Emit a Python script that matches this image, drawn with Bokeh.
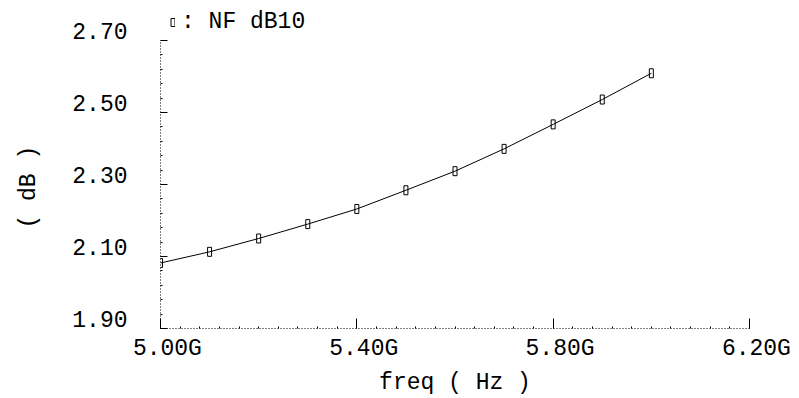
import numpy as np
from bokeh.plotting import figure
from bokeh.models import (FixedTicker, CustomJSTickFormatter,
                          Range1d, Legend, LegendItem, ColumnDataSource)
from bokeh.embed import file_html
from bokeh.resources import INLINE

# data (freq in Hz, NF in dB)
freq = [5.0e9, 5.1e9, 5.2e9, 5.3e9, 5.4e9, 5.5e9, 5.6e9, 5.7e9, 5.8e9, 5.9e9, 6.0e9]
nf_db = [2.082, 2.113, 2.150, 2.190, 2.232, 2.284, 2.337, 2.399, 2.467, 2.536, 2.609]
x_ticks = [5.0e9, 5.4e9, 5.8e9, 6.2e9]
y_ticks = [1.90, 2.10, 2.30, 2.50, 2.70]
series_name = "NF dB10"

FONT = "Liberation Mono"
FS = "23px"
NB = "\u00a0"

# frame extends above 2.70 so the legend can sit there; axis bounds stop at 2.70
p = figure(width=799, height=398, output_backend="svg", toolbar_location=None,
           x_range=Range1d(5.0e9, 6.2e9), y_range=Range1d(1.90, 2.80),
           min_border_left=160, min_border_right=50, min_border_top=4,
           min_border_bottom=66, background_fill_color="white",
           border_fill_color="white", outline_line_color=None)
p.grid.visible = False

src = ColumnDataSource(dict(x=freq, y=nf_db))
p.line("x", "y", source=src, line_color="black", line_width=1)
r = p.rect("x", "y", source=src, width=4, height=9, width_units="screen",
           height_units="screen", fill_color=None, line_color="black", line_width=1)

xminor = list(np.arange(5.0e9, 6.2e9 + 1, 0.04e9))
yminor = list(np.arange(1.90, 2.70 + 1e-9, 0.04))
p.xaxis.ticker = FixedTicker(ticks=x_ticks, minor_ticks=xminor)
p.yaxis.ticker = FixedTicker(ticks=y_ticks, minor_ticks=yminor)
p.yaxis.bounds = (1.90, 2.70)
p.xaxis.formatter = CustomJSTickFormatter(
    code="return '\\u00a0' + (tick/1e9).toFixed(2) + 'G';")
p.yaxis.formatter = CustomJSTickFormatter(code="return tick.toFixed(2) + '\\n ';")

p.xaxis.axis_label = "freq ( Hz )"
p.yaxis.axis_label = "( dB )" + NB * 3

for ax in (p.xaxis, p.yaxis):
    ax.axis_line_color = "black"
    ax.axis_line_dash = "1 2"
    ax.axis_line_width = 1
    ax.major_tick_line_color = "black"
    ax.minor_tick_line_color = "black"
    ax.major_tick_out = 0
    ax.minor_tick_out = 0
    ax.minor_tick_in = 2
    ax.major_label_text_font = FONT
    ax.major_label_text_font_size = FS
    ax.major_label_text_color = "black"
    ax.axis_label_text_font = FONT
    ax.axis_label_text_font_size = FS
    ax.axis_label_text_font_style = "normal"
    ax.axis_label_text_color = "black"

p.xaxis.major_tick_in = 10
p.yaxis.major_tick_in = 7
p.xaxis.major_label_standoff = 7
p.xaxis.axis_label_standoff = 5
p.yaxis.major_label_standoff = 33
p.yaxis.axis_label_standoff = 27
p.yaxis.major_label_text_line_height = 0.6

legend = Legend(items=[LegendItem(label=": " + series_name, renderers=[r])],
                location=(10, 293), glyph_width=5, glyph_height=10,
                label_standoff=6, padding=0, margin=0, spacing=0,
                border_line_color=None, background_fill_alpha=0,
                label_text_font=FONT, label_text_font_size=FS,
                label_text_color="black")
p.add_layout(legend)

open("out.html", "w").write(file_html(p, INLINE))
